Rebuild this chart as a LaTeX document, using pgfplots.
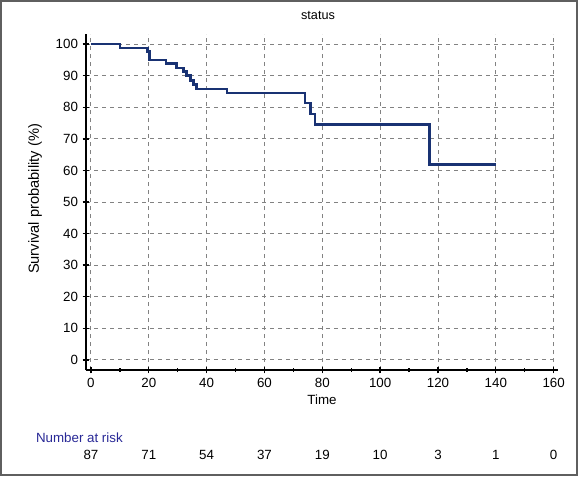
\documentclass[border=0pt]{standalone}
\usepackage{fontspec}
\setmainfont{Liberation Sans}
\usepackage{pgfplots}
\pgfplotsset{compat=1.18}
\definecolor{kmblue}{RGB}{25,50,115}
\definecolor{riskblue}{RGB}{40,40,150}
\definecolor{gridgray}{RGB}{130,130,130}
\definecolor{framegray}{RGB}{95,95,95}

\begin{document}
\begin{tikzpicture}
% 1 px of the reference = 0.75pt; axis lower-left at px (86,370)
\useasboundingbox (-64.5pt,-79.5pt) rectangle (369pt,277.5pt);
\draw[framegray, line width=1.5pt] (-63.75pt,-78.75pt) rectangle (368.25pt,276.75pt);
\begin{axis}[
  at={(0,0)}, anchor=south west,
  scale only axis, width=354pt, height=252pt,
  xmin=-1.7, xmax=161.5, ymin=-3.2, ymax=103.2,
  axis x line=bottom, axis y line=left,
  axis line style={-, line width=1.4pt},
  xtick={0,20,...,160}, ytick={0,10,...,100},
  minor xtick={10,30,...,150},
  grid=major,
  major grid style={gridgray, dash pattern=on 3pt off 3pt, line width=0.7pt},
  tick align=center,
  major tick length=5pt, minor tick length=3pt,
  every tick/.style={black, line width=1pt},
  ticklabel style={font=\fontsize{10}{11}\selectfont},
  /pgf/number format/assume math mode=true,
  clip=false,
]
\addplot[const plot, kmblue, line width=1.9pt] coordinates {
  (0,100) (10,98.8) (19.5,97.7) (20.3,95.0) (26,93.8) (29.5,92.4)
  (32,91.3) (33,90.0) (34.5,88.5) (35.5,87.2) (36.5,85.8) (47,84.5)
  (74,81.3) (76,77.8) (77.5,74.6) (117,61.8) (140,61.8)
};
% number at risk
\addplot[draw=none, mark=none,
  nodes near coords, point meta=explicit symbolic,
  nodes near coords style={anchor=center, text=black, font=\fontsize{10}{11}\selectfont}]
  table[meta=n] {
x y n
0 -30.1 87
20 -30.1 71
40 -30.1 54
60 -30.1 37
80 -30.1 19
100 -30.1 10
120 -30.1 3
140 -30.1 1
160 -30.1 0
};
\end{axis}
\node[font=\fontsize{9.5}{11}\selectfont] at (174pt,266.25pt) {status};
\node[font=\fontsize{10}{11}\selectfont] at (177pt,-22.5pt) {Time};
\node[rotate=90, font=\fontsize{11}{12}\selectfont] at (-38.25pt,128.25pt) {Survival probability (\%)};
\node[anchor=west, text=riskblue, font=\fontsize{10}{11}\selectfont] at (-41pt,-50.5pt) {Number at risk};
\end{tikzpicture}
\end{document}
